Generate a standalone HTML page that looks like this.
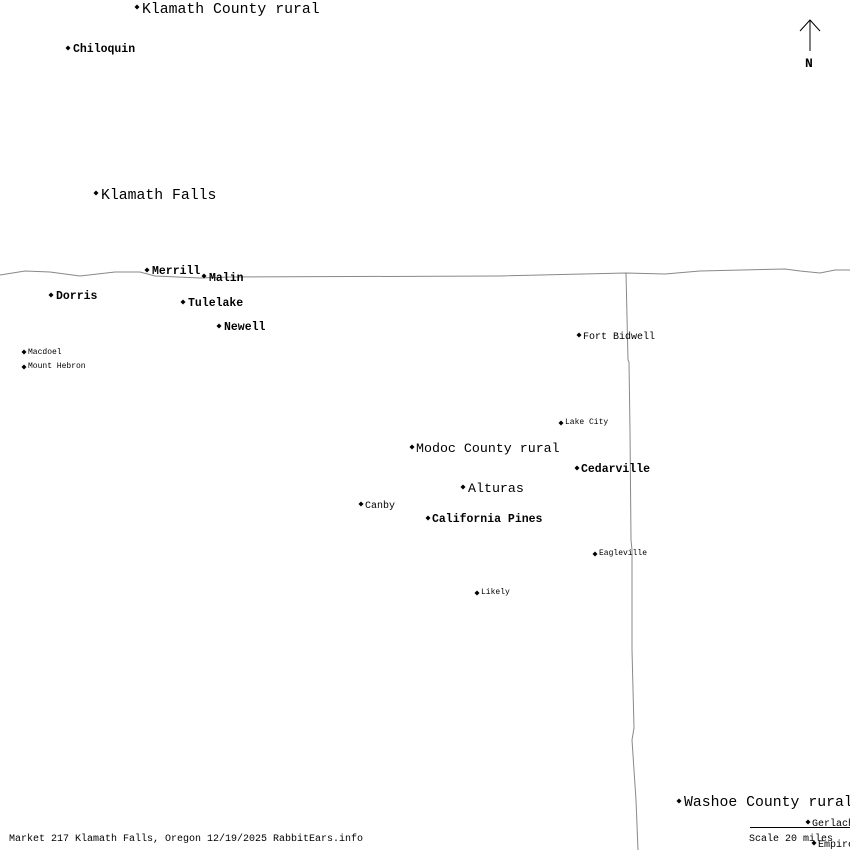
<!DOCTYPE html>
<html><head><meta charset="utf-8"><style>
html,body{margin:0;padding:0;background:#fff;}
svg{display:block;}
text{font-family:"Liberation Mono","DejaVu Sans Mono",monospace;fill:#000;}
.b{font-weight:bold;font-size:11.5px;}
.n{font-size:10px;}
.s{font-size:8px;}
.l{font-size:14.8px;}
.m{font-size:13.3px;}
</style></head><body>
<svg width="850" height="850" viewBox="0 0 850 850" xmlns="http://www.w3.org/2000/svg">
<defs><path id="d" d="M0,-2.5 L2.5,0 L0,2.5 L-2.5,0Z" fill="#000"/></defs>
<polyline fill="none" stroke="#888" stroke-width="1" points="0,275 25,271 50,272 80,276 115,272 140,272 155,276 200,278 230,277 500,276 626,273 665,274 700,271 785,269 800,271 820,273 835,270 850,270"/>
<polyline fill="none" stroke="#888" stroke-width="1" points="626,273 628,360 629,362 630,430 631,540 632,550 632,650 634,728 632,740 636,800 638,850"/>
<!-- north arrow -->
<line x1="810" y1="20" x2="810" y2="51" stroke="#000"/>
<polyline points="800,31 810,20 820,31" fill="none" stroke="#000"/>
<text x="805" y="67" class="b" style="font-size:13px">N</text>

<use href="#d" x="137" y="7"/><text x="142" y="13" class="l">Klamath County rural</text>
<use href="#d" x="68" y="48"/><text x="73" y="52" class="b">Chiloquin</text>
<use href="#d" x="96" y="193"/><text x="101" y="199" class="l">Klamath Falls</text>
<use href="#d" x="147" y="270"/><text x="152" y="274" class="b">Merrill</text>
<use href="#d" x="204" y="276"/><text x="209" y="281" class="b">Malin</text>
<use href="#d" x="51" y="295"/><text x="56" y="299" class="b">Dorris</text>
<use href="#d" x="183" y="302"/><text x="188" y="306" class="b">Tulelake</text>
<use href="#d" x="219" y="326"/><text x="224" y="330" class="b">Newell</text>
<use href="#d" x="24" y="352"/><text x="28" y="354" class="s">Macdoel</text>
<use href="#d" x="24" y="367"/><text x="28" y="368" class="s">Mount Hebron</text>
<use href="#d" x="579" y="335"/><text x="583" y="339" class="n">Fort Bidwell</text>
<use href="#d" x="561" y="423"/><text x="565" y="424" class="s">Lake City</text>
<use href="#d" x="412" y="447"/><text x="416" y="452" class="m">Modoc County rural</text>
<use href="#d" x="577" y="468"/><text x="581" y="472" class="b">Cedarville</text>
<use href="#d" x="463" y="487"/><text x="468" y="492" class="m">Alturas</text>
<use href="#d" x="361" y="504"/><text x="365" y="508" class="n">Canby</text>
<use href="#d" x="428" y="518"/><text x="432" y="522" class="b">California Pines</text>
<use href="#d" x="595" y="554"/><text x="599" y="555" class="s">Eagleville</text>
<use href="#d" x="477" y="593"/><text x="481" y="594" class="s">Likely</text>
<use href="#d" x="679" y="801"/><text x="684" y="806" class="l">Washoe County rural</text>
<line x1="750" y1="827.5" x2="850" y2="827.5" stroke="#000"/>
<use href="#d" x="808" y="822"/><text x="812" y="826" class="n">Gerlach</text>
<text x="749" y="841" class="n">Scale 20 miles</text>
<use href="#d" x="814" y="843"/><text x="818" y="847" class="n">Empire</text>
<text x="9" y="841" class="n">Market 217 Klamath Falls, Oregon 12/19/2025 RabbitEars.info</text>
</svg>
</body></html>
